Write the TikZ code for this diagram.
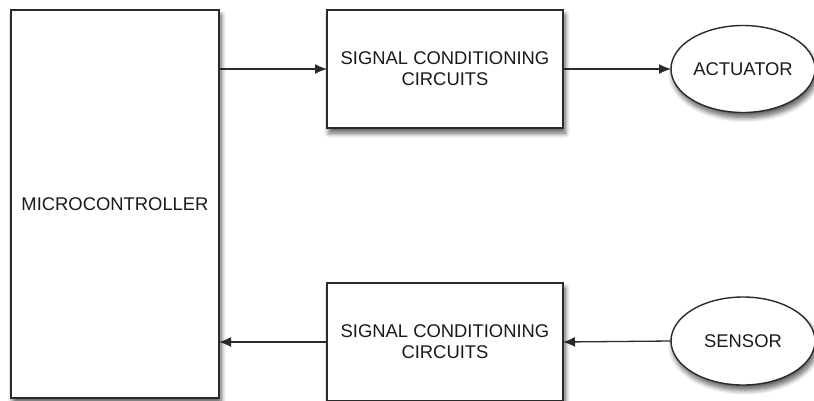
\documentclass[tikz,border=0pt]{standalone}
\usepackage{fontspec}
\setmainfont{Liberation Sans}
\usetikzlibrary{shapes.geometric,arrows.meta,shadows.blur}
\definecolor{edge}{HTML}{2A2A2A}
\definecolor{ink}{HTML}{1A1A1A}
\begin{document}
\begin{tikzpicture}[x=1pt, y=-1pt,
        block/.style={draw=edge, line width=1.4pt, fill=white, inner sep=0pt, outer sep=0pt,
            text=ink, align=center, font=\fontsize{18.4}{21}\selectfont,
            blur shadow={shadow xshift=2pt, shadow yshift=-5pt, shadow blur radius=5pt,
                shadow blur steps=8, shadow opacity=65}},
        blob/.style={block, ellipse},
        arr/.style={-{Latex[length=12pt, width=10pt]}, line width=1.3pt, draw=edge}]
        \useasboundingbox (0,0) rectangle (814,400);

        % Controller on the left
        \node[block, minimum width=208pt, minimum height=388pt] (mcu) at (115, 204) {MICROCONTROLLER};

        % Output path
        \node[block, minimum width=236pt, minimum height=118pt] (sctop) at (445, 69)
            {SIGNAL CONDITIONING\\CIRCUITS};
        \node[blob, minimum width=144pt, minimum height=87pt] (act) at (743, 69) {ACTUATOR};

        % Input path
        \node[block, minimum width=236pt, minimum height=118pt] (scbot) at (445, 342)
            {SIGNAL CONDITIONING\\CIRCUITS};
        \node[blob, minimum width=144pt, minimum height=88pt] (sens) at (743, 341) {SENSOR};

        % Connections
        \draw[arr] (mcu.east |- sctop.west) -- (sctop.west);
        \draw[arr] (sctop.east) -- (act.west);
        \draw[arr] (sens.west) -- (scbot.east);
        \draw[arr] (scbot.west) -- (mcu.east |- scbot.west);
    \end{tikzpicture}
\end{document}
